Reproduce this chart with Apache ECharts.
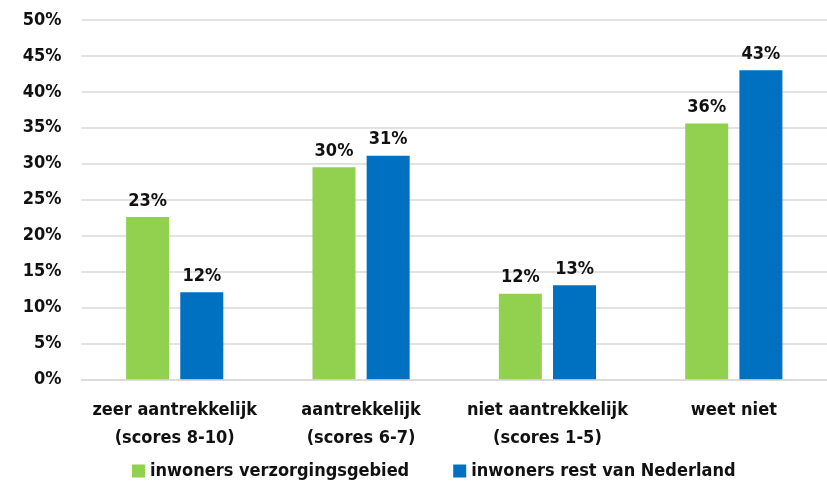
<!DOCTYPE html>
<html>
<head>
<meta charset="utf-8">
<script src="https://cdn.jsdelivr.net/npm/echarts@6/dist/echarts.min.js"></script>
<style>
  html, body { margin: 0; padding: 0; background: #fff; }
  #chart { width: 827px; height: 494px; }
</style>
</head>
<body>
<div id="chart"></div>
<script>
// Survey answers, share of respondents per group (percent)
const categories = [
  'zeer aantrekkelijk\n(scores 8-10)',
  'aantrekkelijk\n(scores 6-7)',
  'niet aantrekkelijk\n(scores 1-5)',
  'weet niet'
];
const seriesNames = ['inwoners verzorgingsgebied', 'inwoners rest van Nederland'];
const verzorgingsgebied = [22.6, 29.5, 11.9, 35.6];
const restNederland = [12.1, 31.1, 13.1, 43.0];
const yTicks = [0, 5, 10, 15, 20, 25, 30, 35, 40, 45, 50];

const FONT = '"DejaVu Sans Condensed", "Liberation Sans", sans-serif';
const INK = '#111';

const chart = echarts.init(document.getElementById('chart'), null, { renderer: 'canvas' });

function barSeries(name, data, color) {
  return {
    name: name,
    type: 'bar',
    data: data,
    barWidth: 43,
    barGap: '26%',
    itemStyle: { color: color },
    label: {
      show: true,
      position: 'top',
      distance: 7,
      formatter: p => Math.round(p.value) + '%',
      fontFamily: FONT,
      fontSize: 18,
      fontWeight: 'bold',
      color: INK
    }
  };
}

chart.setOption({
  animation: false,
  backgroundColor: '#fff',
  grid: { left: 81.5, top: 20, width: 760, bottom: 114.7, containLabel: false },
  legend: {
    data: seriesNames,
    bottom: 14,
    left: 132,
    padding: 0,
    icon: 'rect',
    itemWidth: 13,
    itemHeight: 13,
    itemGap: 44,
    textStyle: { fontFamily: FONT, fontSize: 18, fontWeight: 'bold', color: INK }
  },
  xAxis: {
    type: 'category',
    data: categories,
    axisTick: { show: false },
    axisLine: { show: true, lineStyle: { color: '#d9d9d9', width: 1.5 } },
    axisLabel: {
      margin: 17,
      fontFamily: FONT,
      fontSize: 18,
      fontWeight: 'bold',
      color: INK,
      lineHeight: 28,
      interval: 0
    }
  },
  yAxis: {
    type: 'value',
    min: yTicks[0],
    max: yTicks[yTicks.length - 1],
    interval: yTicks[1] - yTicks[0],
    axisLine: { show: false },
    axisTick: { show: false },
    splitLine: { lineStyle: { color: '#d9d9d9', width: 1.5 } },
    axisLabel: {
      margin: 20,
      formatter: v => v + '%',
      fontFamily: FONT,
      fontSize: 18,
      fontWeight: 'bold',
      color: INK
    }
  },
  series: [
    barSeries(seriesNames[0], verzorgingsgebied, '#92d050'),
    barSeries(seriesNames[1], restNederland, '#0070c0')
  ]
});
</script>
</body>
</html>
